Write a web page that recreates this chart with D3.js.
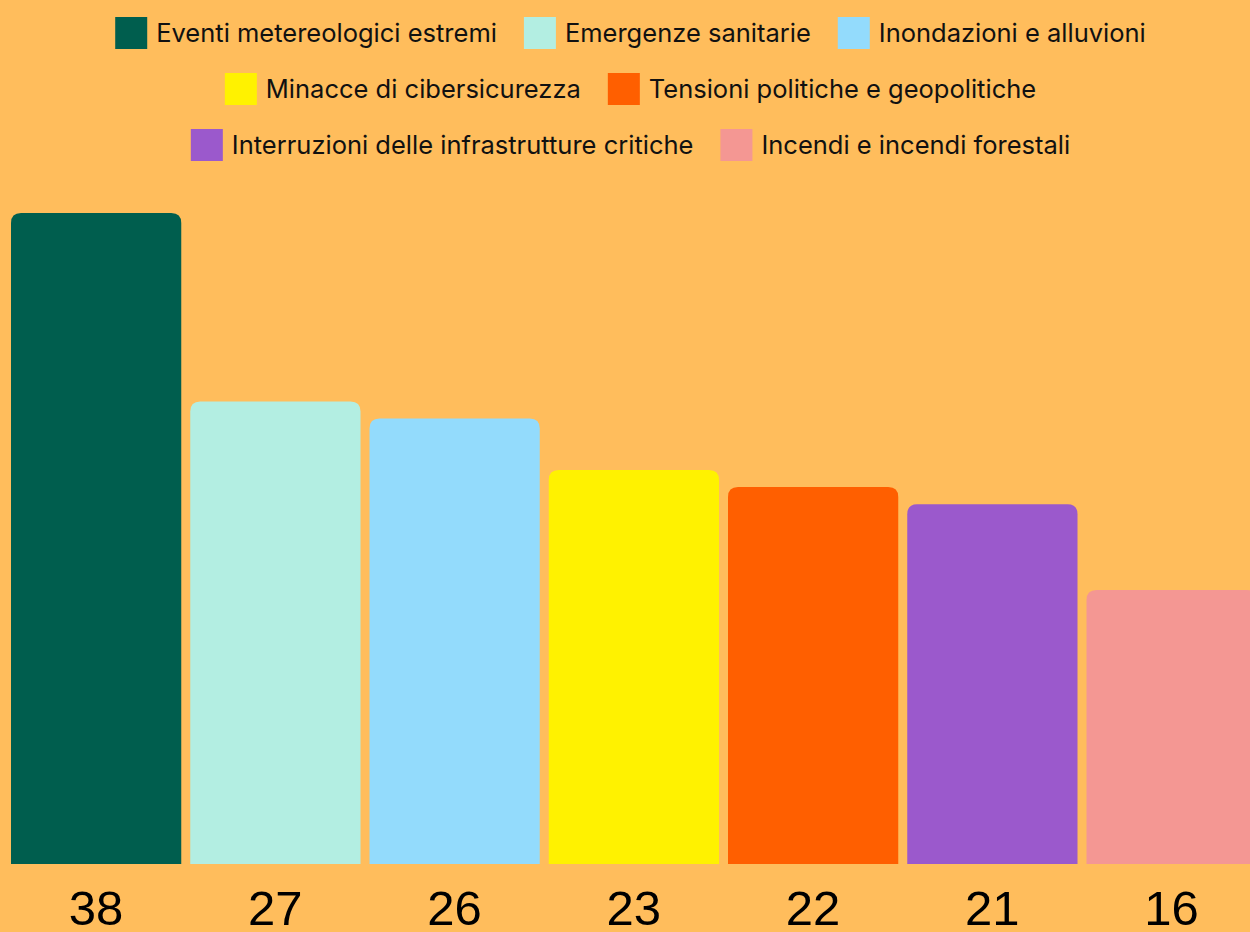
<!DOCTYPE html>
<html><head><meta charset="utf-8">
<script src="https://cdn.jsdelivr.net/npm/d3@7"></script>
<style>html,body{margin:0;padding:0;background:#FFBD5C;overflow:hidden}</style>
</head><body>
<svg id="c" width="1250" height="932"></svg>
<script>
const categories = ["Eventi metereologici estremi","Emergenze sanitarie","Inondazioni e alluvioni","Minacce di cibersicurezza","Tensioni politiche e geopolitiche","Interruzioni delle infrastrutture critiche","Incendi e incendi forestali"];
const values = [38,27,26,23,22,21,16];
const colors = ["#005E4E","#B3EEE2","#93DBFC","#FFF200","#FF5F00","#9B59CC","#F49793"];
const legendRows = [[0,1,2],[3,4],[5,6]];

const svg = d3.select("#c");
svg.append("rect").attr("width",1250).attr("height",932).attr("fill","#FFBD5C");

const step = 179.25, pad = 9;
const x = d3.scaleBand().domain(categories).range([11, 11+7*step-pad]).paddingInner(pad/step).paddingOuter(0);
const y = d3.scaleLinear().domain([0,38]).range([864,213]);
const r = 10;
function barPath(x0,w,yt,yb){
  return `M${x0},${yb}V${yt+r}Q${x0},${yt} ${x0+r},${yt}H${x0+w-r}Q${x0+w},${yt} ${x0+w},${yt+r}V${yb}Z`;
}
svg.selectAll("path.bar").data(categories).join("path").attr("class","bar")
  .attr("d",(d,i)=>barPath(x(d),x.bandwidth(),y(values[i]),y(0)))
  .attr("fill",(d,i)=>colors[i]);

svg.selectAll("text.val").data(categories).join("text").attr("class","val")
  .attr("x",d=>x(d)+x.bandwidth()/2).attr("y",925)
  .attr("text-anchor","middle").attr("font-family","Liberation Sans, Arial, sans-serif")
  .attr("font-size",49).attr("fill","#000").text((d,i)=>values[i]);

// legend
const fs = 25.5, sw = 32, gapT = 9, gapI = 27;
legendRows.forEach((row,ri)=>{
  const cy = 33 + ri*56;
  const g = svg.append("g");
  let cx = 0;
  row.forEach((idx,k)=>{
    g.append("rect").attr("x",cx).attr("y",cy-16).attr("width",sw).attr("height",sw).attr("fill",colors[idx]);
    const t = g.append("text").attr("x",cx+sw+gapT).attr("y",cy).attr("dy","0.35em")
      .attr("font-family","Inter, sans-serif").attr("font-size",fs).attr("fill","#111").text(categories[idx]);
    cx += sw+gapT+t.node().getComputedTextLength()+(k<row.length-1?gapI:0);
  });
  g.attr("transform",`translate(${630.5-cx/2},0)`);
});
</script>
</body></html>
